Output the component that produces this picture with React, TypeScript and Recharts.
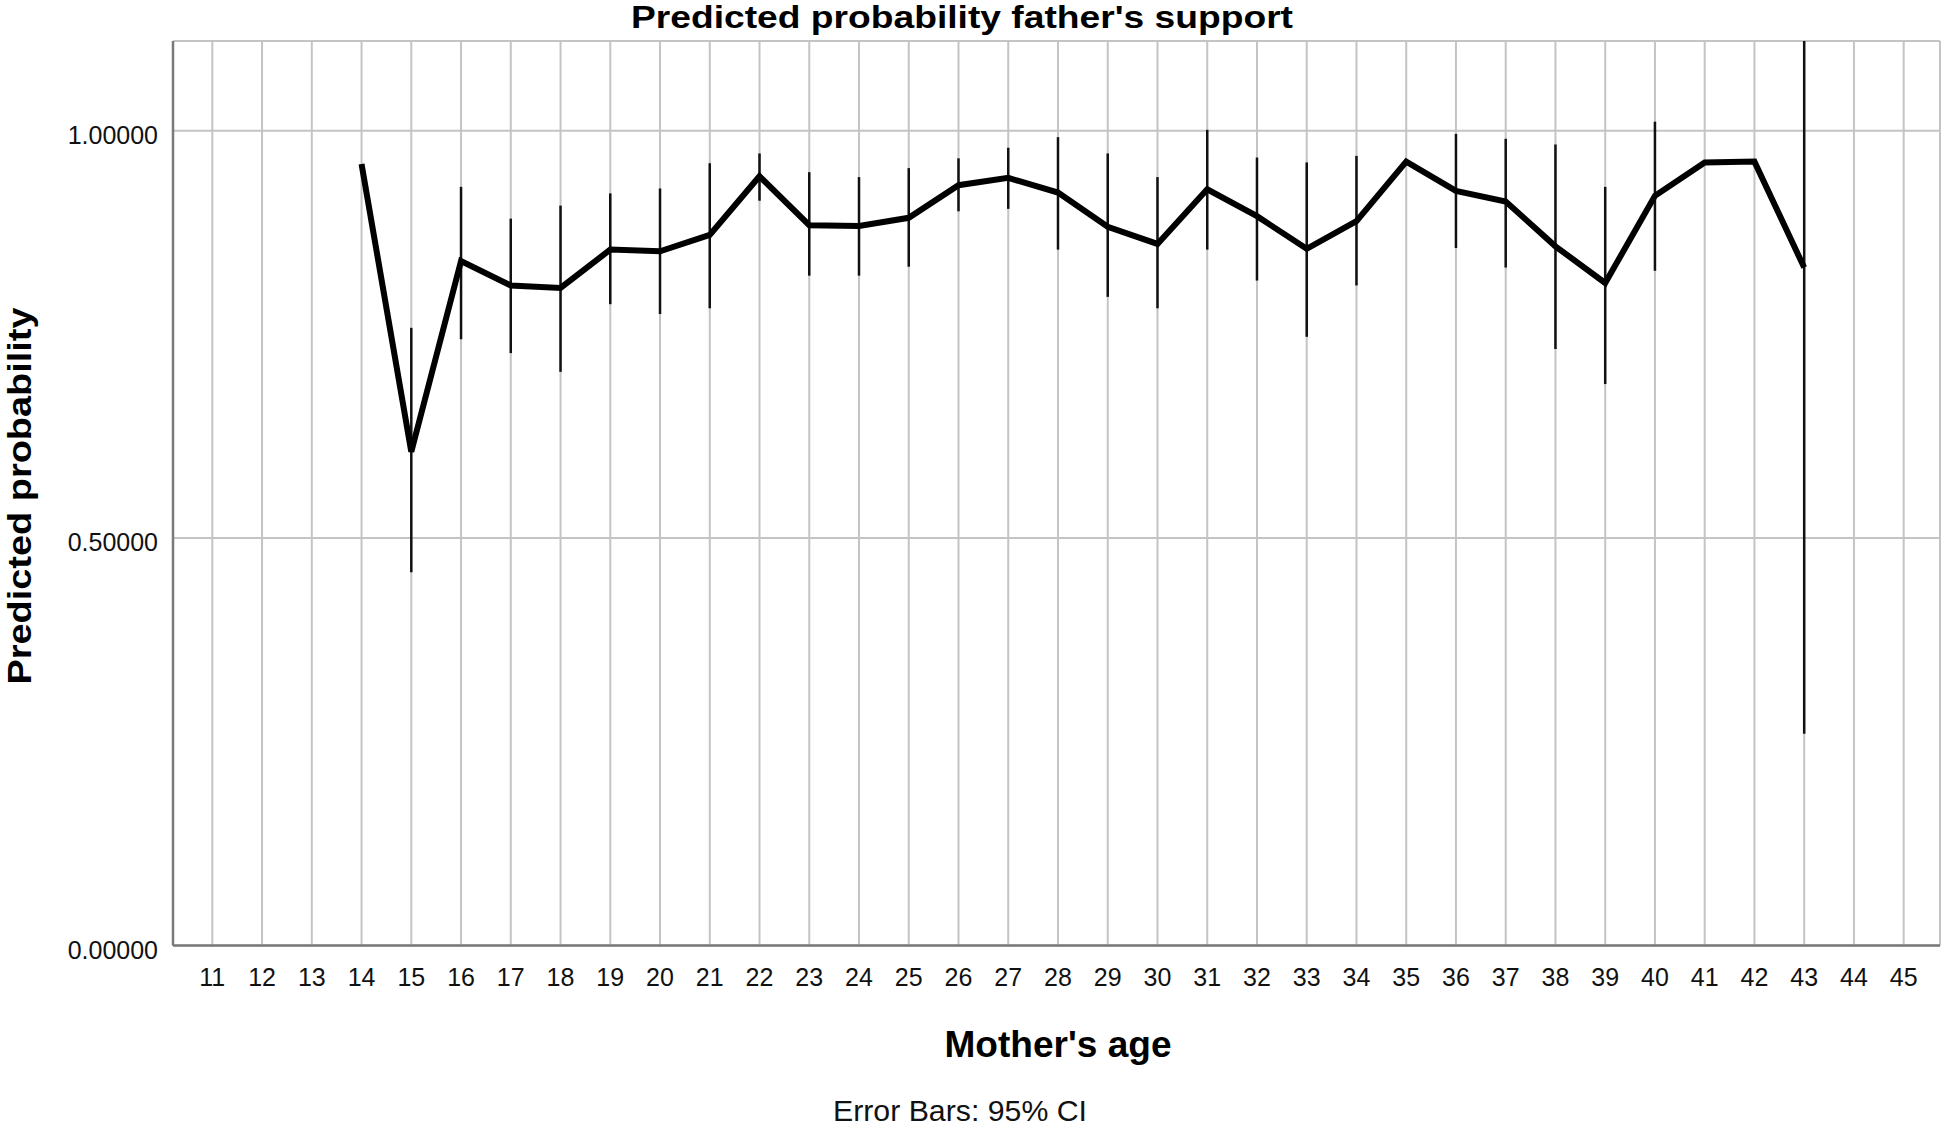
import { LineChart, Line, XAxis, YAxis, CartesianGrid, ErrorBar } from "recharts";

// mother's age with an estimate (14..43)
const ages = [14, 15, 16, 17, 18, 19, 20, 21, 22, 23, 24, 25, 26, 27, 28, 29, 30, 31, 32, 33, 34, 35, 36, 37, 38, 39, 40, 41, 42, 43];
const probability = [0.959, 0.606, 0.84, 0.81, 0.807, 0.854, 0.852, 0.872, 0.944, 0.884, 0.883, 0.893, 0.933, 0.942, 0.924, 0.882, 0.861, 0.928, 0.895, 0.855, 0.889, 0.962, 0.926, 0.913, 0.858, 0.813, 0.92, 0.961, 0.962, 0.832];
// 95% CI bounds, null where no bar is shown
const ciLower = [null, 0.458, 0.744, 0.727, 0.704, 0.787, 0.775, 0.782, 0.914, 0.822, 0.822, 0.833, 0.901, 0.904, 0.854, 0.796, 0.782, 0.854, 0.816, 0.747, 0.81, null, 0.856, 0.832, 0.732, 0.689, 0.828, null, null, 0.26];
const ciUpper = [null, 0.758, 0.931, 0.892, 0.908, 0.923, 0.929, 0.96, 0.972, 0.949, 0.943, 0.954, 0.966, 0.979, 0.992, 0.972, 0.943, 1.001, 0.967, 0.961, 0.969, null, 0.996, 0.99, 0.983, 0.931, 1.011, null, null, 1.11];

const ageTicks = [11, 12, 13, 14, 15, 16, 17, 18, 19, 20, 21, 22, 23, 24, 25, 26, 27, 28, 29, 30, 31, 32, 33, 34, 35, 36, 37, 38, 39, 40, 41, 42, 43, 44, 45];
const probTicks = [0, 0.5, 1];

const data = ages.map((age, i) => ({
  age,
  p: probability[i],
  err: ciLower[i] == null ? [0, 0] : [probability[i] - (ciLower[i] as number), (ciUpper[i] as number) - probability[i]],
}));

const FONT = "'Liberation Sans', Arial, sans-serif";

const XTick = ({ x, y, payload }: any) => (
  <text x={x} y={y} dy={40} textAnchor="middle" fontFamily={FONT} fontSize={25} fill="#111">
    {payload.value}
  </text>
);

const YTick = ({ x, y, payload }: any) => (
  <text x={x} y={y} dy={13} textAnchor="end" fontFamily={FONT} fontSize={25} fill="#111">
    {Number(payload.value).toFixed(5)}
  </text>
);

export default function App() {
  return (
    <div style={{ position: "absolute", left: 0, top: 0, width: 1944, height: 1130, background: "#fff" }}>
      <LineChart width={1944} height={1130} data={data} margin={{ top: 41, right: 4, bottom: 0, left: 0 }}>
        <CartesianGrid stroke="#c4c4c4" strokeWidth={2} />
        <XAxis
          dataKey="age"
          type="number"
          domain={[10.21, 45.73]}
          ticks={ageTicks}
          interval={0}
          height={184.5}
          tickSize={0}
          tickMargin={0}
          tickLine={false}
          axisLine={{ stroke: "#7a7a7a", strokeWidth: 2.5 }}
          tick={<XTick />}
        />
        <YAxis
          type="number"
          domain={[0, 1.11]}
          ticks={probTicks}
          width={173}
          tickSize={0}
          tickMargin={15}
          tickLine={false}
          axisLine={{ stroke: "#7a7a7a", strokeWidth: 2.5 }}
          tick={<YTick />}
        />
        <Line type="linear" dataKey="p" stroke="#000" strokeWidth={6} dot={false} isAnimationActive={false}>
          <ErrorBar dataKey="err" direction="y" width={0} stroke="#111" strokeWidth={2.5} isAnimationActive={false} />
        </Line>
      </LineChart>
      <svg width={1944} height={1130} style={{ position: "absolute", left: 0, top: 0, pointerEvents: "none" }}>
        <text x={962} y={28} textAnchor="middle" fontFamily={FONT} fontWeight="bold" fontSize={32} textLength={662} lengthAdjust="spacingAndGlyphs" fill="#000">
          Predicted probability father's support
        </text>
        <text transform="translate(31,496) rotate(-90)" textAnchor="middle" fontFamily={FONT} fontWeight="bold" fontSize={33} textLength={377} lengthAdjust="spacingAndGlyphs" fill="#000">
          Predicted probability
        </text>
        <text x={1058} y={1057} textAnchor="middle" fontFamily={FONT} fontWeight="bold" fontSize={37} textLength={227} lengthAdjust="spacingAndGlyphs" fill="#000">
          Mother's age
        </text>
        <text x={960} y={1121} textAnchor="middle" fontFamily={FONT} fontSize={29} textLength={254} lengthAdjust="spacingAndGlyphs" fill="#111">
          Error Bars: 95% CI
        </text>
      </svg>
    </div>
  );
}
